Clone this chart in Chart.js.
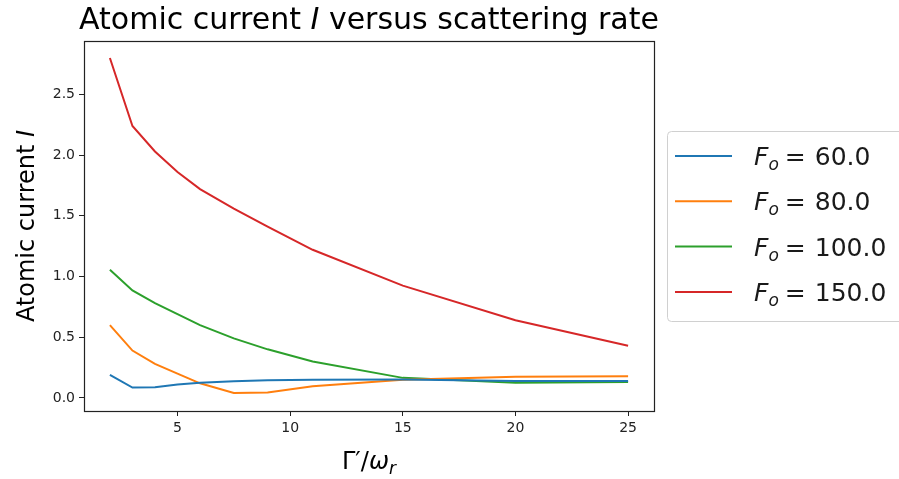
<!DOCTYPE html>
<html>
<head>
<meta charset="utf-8">
<script src="https://cdn.jsdelivr.net/npm/chart.js@4.4.1/dist/chart.umd.min.js"></script>
<style>
  body { margin: 0; background: #fff; }
  canvas { display: block; }
</style>
</head>
<body>
<canvas id="chart" width="899" height="479"></canvas>
<script>
// data
const gammaRatio = [2, 3, 4, 5, 6, 7.5, 9, 11, 15, 20, 25];
const current60  = [0.19, 0.085, 0.087, 0.11, 0.125, 0.138, 0.145, 0.15, 0.152, 0.14, 0.14];
const current80  = [0.60, 0.39, 0.28, 0.20, 0.12, 0.04, 0.045, 0.095, 0.15, 0.175, 0.178];
const current100 = [1.055, 0.885, 0.78, 0.69, 0.60, 0.49, 0.40, 0.30, 0.165, 0.125, 0.13];
const current150 = [2.80, 2.24, 2.03, 1.86, 1.72, 1.56, 1.41, 1.22, 0.925, 0.64, 0.43];
const foValues = [60.0, 80.0, 100.0, 150.0];
const xTicks = [5, 10, 15, 20, 25];
const yTicks = [0.0, 0.5, 1.0, 1.5, 2.0, 2.5];

const colors = ['#1f77b4', '#ff7f0e', '#2ca02c', '#d62728'];
const series = [current60, current80, current100, current150];
const FONT = "'DejaVu Sans', sans-serif";

function points(ys) {
  return gammaRatio.map((x, i) => ({ x: x, y: ys[i] }));
}

// text drawing helper: pieces of [text, italic, size, dy, extraGap]
function drawPieces(ctx, pieces, x, y) {
  let cx = x;
  pieces.forEach(p => {
    ctx.font = (p[1] ? 'italic ' : '') + p[2] + 'px ' + FONT;
    ctx.fillText(p[0], cx, y + (p[3] || 0));
    cx += ctx.measureText(p[0]).width + (p[4] || 0);
  });
  return cx - x;
}
function piecesWidth(ctx, pieces) {
  let w = 0;
  pieces.forEach(p => {
    ctx.font = (p[1] ? 'italic ' : '') + p[2] + 'px ' + FONT;
    w += ctx.measureText(p[0]).width + (p[4] || 0);
  });
  return w;
}

const decorations = {
  id: 'decorations',
  afterDraw(chart) {
    const ctx = chart.ctx;
    const a = chart.chartArea;
    ctx.save();
    // frame (all four spines)
    ctx.strokeStyle = '#222';
    ctx.lineWidth = 1.2;
    ctx.strokeRect(Math.round(a.left) + 0.5, Math.round(a.top) + 0.5,
      Math.round(a.right - a.left), Math.round(a.bottom - a.top));

    ctx.fillStyle = '#000';
    ctx.textBaseline = 'alphabetic';
    const cxMid = (a.left + a.right) / 2;

    // title
    const title = [['Atomic current ', false, 30], ['I', true, 30], [' versus scattering rate', false, 30]];
    drawPieces(ctx, title, cxMid - piecesWidth(ctx, title) / 2, 29);

    // x label
    const xl = [['Γ', false, 24], ['′', false, 24], ['/', false, 24], ['ω', true, 24], ['r', true, 17, 5]];
    drawPieces(ctx, xl, cxMid - piecesWidth(ctx, xl) / 2, 469);

    // y label
    const yl = [['Atomic current ', false, 24], ['I', true, 24]];
    ctx.save();
    ctx.translate(34, (a.top + a.bottom) / 2);
    ctx.rotate(-Math.PI / 2);
    drawPieces(ctx, yl, -piecesWidth(ctx, yl) / 2, 0);
    ctx.restore();

    // legend
    const lx = 667.5, ly = 131.5, lw = 240, lh = 190, r = 4;
    ctx.beginPath();
    ctx.moveTo(lx + r, ly);
    ctx.lineTo(lx + lw - r, ly);
    ctx.arcTo(lx + lw, ly, lx + lw, ly + r, r);
    ctx.lineTo(lx + lw, ly + lh - r);
    ctx.arcTo(lx + lw, ly + lh, lx + lw - r, ly + lh, r);
    ctx.lineTo(lx + r, ly + lh);
    ctx.arcTo(lx, ly + lh, lx, ly + lh - r, r);
    ctx.lineTo(lx, ly + r);
    ctx.arcTo(lx, ly, lx + r, ly, r);
    ctx.closePath();
    ctx.fillStyle = 'rgba(255,255,255,0.8)';
    ctx.fill();
    ctx.strokeStyle = '#d0d0d0';
    ctx.lineWidth = 1;
    ctx.stroke();

    chart.data.datasets.forEach((ds, i) => {
      const rowY = 156 + i * 45.3;
      ctx.strokeStyle = ds.borderColor;
      ctx.lineWidth = 2;
      ctx.beginPath();
      ctx.moveTo(675, rowY);
      ctx.lineTo(732, rowY);
      ctx.stroke();
      ctx.fillStyle = '#1a1a1a';
      const lab = [['F', true, 25, 0, 0], ['o', true, 17, 5, 6], ['=', false, 25, 0, 9], [foValues[i].toFixed(1), false, 25]];
      drawPieces(ctx, lab, 754, rowY + 9);
    });
    ctx.restore();
  }
};

new Chart(document.getElementById('chart'), {
  type: 'line',
  data: {
    datasets: series.map((s, i) => ({
      label: 'F_o = ' + foValues[i].toFixed(1),
      data: points(s),
      borderColor: colors[i],
      backgroundColor: colors[i],
      borderWidth: 2,
      pointRadius: 0,
      tension: 0,
      fill: false
    }))
  },
  options: {
    responsive: false,
    animation: false,
    devicePixelRatio: 1,
    layout: { padding: { top: 41, right: 245, bottom: 0, left: 0 } },
    plugins: { legend: { display: false }, title: { display: false }, tooltip: { enabled: false } },
    scales: {
      x: {
        type: 'linear',
        min: 0.85,
        max: 26.15,
        afterBuildTicks: s => { s.ticks = xTicks.map(v => ({ value: v })); },
        afterFit: s => { s.height = 68; },
        grid: { drawOnChartArea: false, drawTicks: true, tickLength: 5, color: '#222' },
        border: { display: false },
        ticks: { color: '#222', padding: 4, font: { family: FONT, size: 14 }, maxRotation: 0 }
      },
      y: {
        type: 'linear',
        min: -0.108,
        max: 2.94,
        afterBuildTicks: s => { s.ticks = yTicks.map(v => ({ value: v })); },
        afterFit: s => { s.width = 84; },
        grid: { drawOnChartArea: false, drawTicks: true, tickLength: 5, color: '#222' },
        border: { display: false },
        ticks: { color: '#222', padding: 4, font: { family: FONT, size: 14 }, callback: v => v.toFixed(1) }
      }
    }
  },
  plugins: [decorations]
});
</script>
</body>
</html>
